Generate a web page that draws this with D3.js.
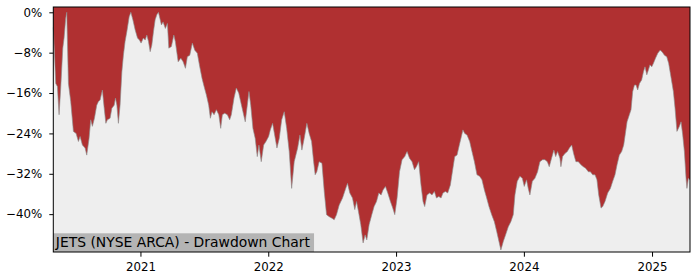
<!DOCTYPE html>
<html>
<head>
<meta charset="utf-8">
<script src="https://cdn.jsdelivr.net/npm/d3@7"></script>
<style>
  body { margin: 0; background: #fff; }
  svg text { font-family: "DejaVu Sans", sans-serif; }
</style>
</head>
<body>
<div id="chart"></div>
<script>
// Dates as decimal years, drawdown in percent
const dateYears = [
    2020.320, 2020.339, 2020.352, 2020.365, 2020.378, 2020.394, 2020.404, 2020.417, 2020.425, 2020.438,
    2020.456, 2020.477, 2020.498, 2020.516, 2020.529, 2020.547, 2020.568, 2020.581, 2020.599, 2020.612,
    2020.625, 2020.641, 2020.659, 2020.672, 2020.685, 2020.703, 2020.716, 2020.730, 2020.742, 2020.763,
    2020.777, 2020.795, 2020.805, 2020.816, 2020.828, 2020.841, 2020.855, 2020.867, 2020.880, 2020.894,
    2020.912, 2020.925, 2020.941, 2020.959, 2020.977, 2020.992, 2021.005, 2021.023, 2021.037, 2021.050,
    2021.063, 2021.076, 2021.089, 2021.102, 2021.115, 2021.128, 2021.141, 2021.164, 2021.177, 2021.195,
    2021.211, 2021.222, 2021.242, 2021.261, 2021.273, 2021.295, 2021.316, 2021.334, 2021.352, 2021.367,
    2021.386, 2021.406, 2021.425, 2021.445, 2021.464, 2021.482, 2021.498, 2021.516, 2021.534, 2021.547,
    2021.560, 2021.576, 2021.594, 2021.613, 2021.628, 2021.641, 2021.659, 2021.680, 2021.698, 2021.711,
    2021.732, 2021.750, 2021.769, 2021.784, 2021.802, 2021.820, 2021.836, 2021.849, 2021.863, 2021.880,
    2021.898, 2021.914, 2021.927, 2021.945, 2021.964, 2021.982, 2022.003, 2022.016, 2022.034, 2022.052,
    2022.068, 2022.086, 2022.105, 2022.125, 2022.144, 2022.164, 2022.183, 2022.203, 2022.230, 2022.248,
    2022.263, 2022.281, 2022.302, 2022.320, 2022.339, 2022.355, 2022.367, 2022.380, 2022.398, 2022.420,
    2022.438, 2022.456, 2022.477, 2022.498, 2022.516, 2022.534, 2022.555, 2022.581, 2022.602, 2022.620,
    2022.638, 2022.659, 2022.677, 2022.691, 2022.706, 2022.724, 2022.742, 2022.758, 2022.771, 2022.789,
    2022.810, 2022.828, 2022.847, 2022.865, 2022.883, 2022.898, 2022.917, 2022.935, 2022.956, 2022.974,
    2022.990, 2023.008, 2023.027, 2023.047, 2023.068, 2023.086, 2023.105, 2023.125, 2023.144, 2023.159,
    2023.177, 2023.195, 2023.211, 2023.224, 2023.242, 2023.263, 2023.281, 2023.300, 2023.316, 2023.334,
    2023.352, 2023.367, 2023.386, 2023.404, 2023.425, 2023.443, 2023.459, 2023.477, 2023.495, 2023.511,
    2023.523, 2023.537, 2023.555, 2023.576, 2023.594, 2023.613, 2023.633, 2023.654, 2023.672, 2023.691,
    2023.709, 2023.727, 2023.748, 2023.769, 2023.787, 2023.805, 2023.820, 2023.839, 2023.857, 2023.878,
    2023.898, 2023.917, 2023.930, 2023.948, 2023.969, 2023.988, 2024.003, 2024.021, 2024.034, 2024.047,
    2024.066, 2024.086, 2024.107, 2024.125, 2024.146, 2024.164, 2024.183, 2024.198, 2024.216, 2024.234,
    2024.248, 2024.263, 2024.281, 2024.289, 2024.302, 2024.320, 2024.339, 2024.355, 2024.373, 2024.388,
    2024.406, 2024.425, 2024.445, 2024.464, 2024.482, 2024.503, 2024.519, 2024.537, 2024.555, 2024.570,
    2024.584, 2024.602, 2024.615, 2024.633, 2024.654, 2024.675, 2024.693, 2024.711, 2024.727, 2024.745,
    2024.763, 2024.779, 2024.792, 2024.805, 2024.823, 2024.836, 2024.849, 2024.863, 2024.875, 2024.888,
    2024.902, 2024.919, 2024.933, 2024.945, 2024.959, 2024.972, 2024.984, 2024.998, 2025.011, 2025.027,
    2025.045, 2025.063, 2025.078, 2025.097, 2025.115, 2025.130, 2025.148, 2025.167, 2025.180, 2025.195,
    2025.214, 2025.227, 2025.240, 2025.253, 2025.266, 2025.273, 2025.284, 2025.297
];

const drawdownPct = [
    -3.0, -14.1, -14.7, -20.3, -15.0, -7.1, -5.1, -1.2, 0.0, -14.1,
    -17.7, -23.6, -24.0, -25.6, -24.6, -26.3, -26.9, -28.3, -25.0, -21.3,
    -22.6, -21.0, -18.4, -17.7, -17.4, -15.4, -18.7, -22.0, -21.3, -21.0,
    -19.0, -18.4, -17.0, -18.4, -22.0, -18.4, -11.8, -8.5, -5.8, -3.8,
    -0.9, 0.0, -1.5, -3.5, -5.1, -5.5, -6.1, -5.1, -5.5, -4.5,
    -5.8, -7.8, -6.5, -3.8, -1.5, -0.5, 0.0, -2.5, -1.9, -3.2,
    -2.2, -7.1, -6.8, -4.5, -5.8, -9.8, -9.1, -9.8, -11.1, -8.8,
    -8.5, -6.1, -7.5, -8.1, -10.8, -13.1, -14.7, -16.4, -18.4, -21.0,
    -19.7, -20.3, -19.3, -20.3, -23.0, -20.3, -20.0, -20.3, -21.3, -20.3,
    -17.0, -15.0, -16.0, -17.7, -19.7, -21.7, -18.4, -15.7, -18.4, -23.0,
    -25.0, -28.6, -26.3, -29.6, -26.3, -25.6, -24.6, -23.3, -22.0, -24.6,
    -26.9, -25.0, -21.3, -19.7, -23.0, -27.6, -34.9, -29.6, -26.9, -24.3,
    -27.3, -25.0, -22.0, -24.0, -25.6, -29.6, -32.2, -31.6, -29.6, -29.9,
    -35.5, -40.1, -40.5, -40.8, -41.1, -40.1, -38.2, -36.8, -35.2, -33.9,
    -35.8, -36.8, -39.1, -37.5, -39.5, -42.1, -45.7, -44.1, -45.1, -42.1,
    -40.1, -38.5, -37.5, -35.8, -36.2, -35.2, -34.5, -35.8, -37.5, -38.8,
    -40.1, -36.8, -31.6, -29.2, -28.6, -27.6, -28.9, -29.6, -31.2, -30.6,
    -29.6, -34.2, -37.5, -38.5, -36.2, -35.8, -36.2, -35.5, -36.8, -36.5,
    -36.8, -35.8, -35.5, -35.8, -34.2, -31.2, -28.6, -28.3, -26.3, -24.6,
    -23.3, -24.0, -24.3, -25.6, -27.6, -29.6, -32.2, -32.5, -33.2, -35.2,
    -36.8, -38.5, -40.1, -41.5, -43.4, -45.4, -47.1, -45.4, -44.1, -42.5,
    -41.5, -40.1, -36.2, -33.5, -32.5, -32.9, -34.5, -33.2, -34.9, -36.2,
    -33.5, -32.9, -31.6, -29.6, -29.2, -29.2, -29.6, -30.6, -28.9, -27.3,
    -28.6, -27.6, -28.9, -30.6, -28.6, -28.0, -27.6, -26.9, -26.3, -28.0,
    -29.6, -29.6, -30.2, -30.6, -30.9, -31.6, -31.6, -32.2, -32.2, -33.2,
    -36.2, -38.8, -38.5, -37.5, -35.8, -34.9, -33.5, -32.2, -30.2, -28.3,
    -27.6, -26.3, -24.0, -21.7, -20.3, -19.3, -15.7, -14.4, -14.4, -15.4,
    -14.1, -13.4, -11.8, -10.8, -12.4, -11.4, -10.4, -10.8, -10.1, -9.1,
    -8.1, -7.5, -7.8, -8.5, -8.8, -10.1, -12.8, -15.7, -19.0, -23.6,
    -22.6, -21.7, -24.3, -27.6, -32.9, -34.9, -32.9, -33.2
];

const yTickValues = [0, -8, -16, -24, -32, -40];
const xTickYears = [2021, 2022, 2023, 2024, 2025];
const chartLabel = "JETS (NYSE ARCA) - Drawdown Chart";

// decimal year -> UTC date
function toDate(t) {
    const yr = Math.floor(t);
    const s = Date.UTC(yr, 0, 1), e = Date.UTC(yr + 1, 0, 1);
    return new Date(s + (t - yr) * (e - s));
}

const data = dateYears.map((t, i) => ({ date: toDate(t), dd: drawdownPct[i] }));

// Dimensions
const margin = { top: 7, right: 10, bottom: 28, left: 53.3 };
const width = 700 - margin.left - margin.right;
const height = 280 - margin.top - margin.bottom;

const xScale = d3.scaleUtc()
    .domain(d3.extent(data, d => d.date))
    .range([0, width]);

const yScale = d3.scaleLinear()
    .domain([-47.5, 1.05])
    .range([height, 0]);

const svg = d3.select("#chart")
    .append("svg")
    .attr("width", 700)
    .attr("height", 280)
    .append("g")
    .attr("transform", "translate(" + margin.left + "," + margin.top + ")");

// plot background
svg.append("rect")
    .attr("width", width)
    .attr("height", height)
    .attr("fill", "#eeeeee");

// red drawdown area, from the top of the plot down to the curve
const area = d3.area()
    .x(d => xScale(d.date))
    .y0(0)
    .y1(d => yScale(d.dd));

svg.append("path")
    .datum(data)
    .attr("fill", "#b03031")
    .attr("d", area);

const line = d3.line()
    .x(d => xScale(d.date))
    .y(d => yScale(d.dd));

svg.append("path")
    .datum(data)
    .attr("fill", "none")
    .attr("stroke", "#8c8c8c")
    .attr("stroke-width", 0.8)
    .attr("stroke-opacity", 0.8)
    .attr("d", line);

// label box at the bottom left
const labelText = svg.append("text")
    .attr("x", 2.5)
    .attr("y", height - 5.3)
    .attr("fill", "#000")
    .style("font-size", "13.9px")
    .text(chartLabel);

const bb = labelText.node().getBBox();
svg.insert("rect", "text")
    .attr("x", 0)
    .attr("y", height - 18.7)
    .attr("width", bb.width + 5)
    .attr("height", 18.7)
    .attr("fill", "#b4b4b4");

// Axes
const yAxis = d3.axisLeft(yScale)
    .tickValues(yTickValues)
    .tickSize(4)
    .tickPadding(7)
    .tickFormat(d => (d < 0 ? "\u2212" + Math.abs(d) : d) + "%");

const xAxis = d3.axisBottom(xScale)
    .tickValues(xTickYears.map(y => new Date(Date.UTC(y, 0, 1))))
    .tickSize(4.7)
    .tickPadding(6)
    .tickFormat(d3.utcFormat("%Y"));

const gy = svg.append("g").call(yAxis);
const gx = svg.append("g")
    .attr("transform", "translate(0," + height + ")")
    .call(xAxis);

[gx, gy].forEach(g => {
    g.select(".domain").remove();
    g.selectAll("text")
        .attr("fill", "#000")
        .style("font-family", "DejaVu Sans")
        .style("font-size", "11.8px");
    g.selectAll("line").attr("stroke", "#000");
});

// frame around the plot
svg.append("rect")
    .attr("width", width)
    .attr("height", height)
    .attr("fill", "none")
    .attr("stroke", "#000")
    .attr("stroke-width", 1);
</script>
</body>
</html>
